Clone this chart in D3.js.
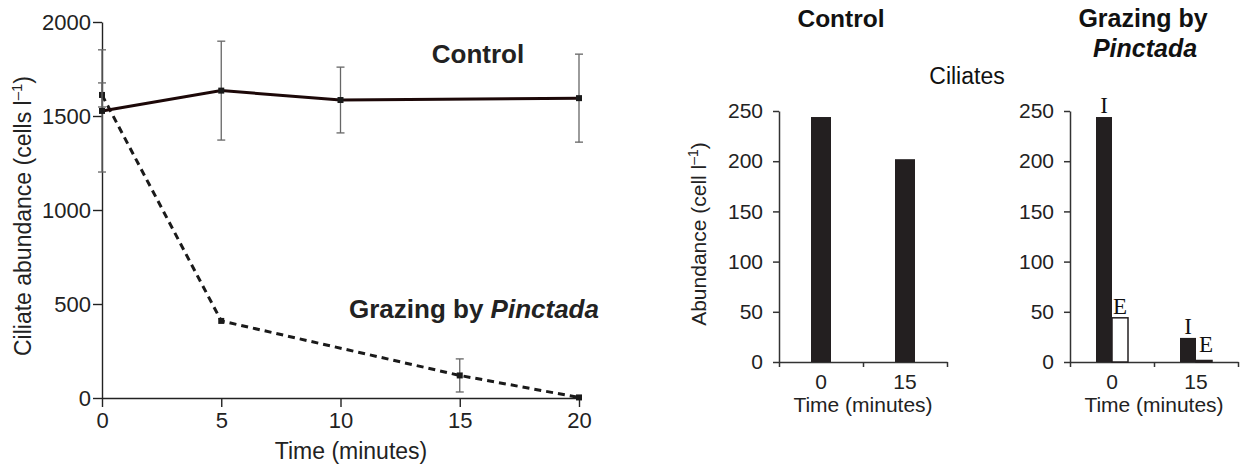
<!DOCTYPE html>
<html>
<head>
<meta charset="utf-8">
<script src="https://cdn.jsdelivr.net/npm/d3@7"></script>
<style>
  body { margin: 0; background: #fff; }
  svg { display: block; font-family: "Liberation Sans", Arial, Helvetica, sans-serif; }
</style>
</head>
<body>
<svg width="1242" height="468"></svg>
<script>
// line chart data (time in minutes, cells per litre)
const controlTime = [0, 5, 10, 20]
const controlMean = [1527, 1635, 1585, 1595]
const controlErr = [325, 263, 175, 234]
const grazingTime = [0, 5, 15, 20]
const grazingMean = [1612, 410, 120, 3]
const grazingErr = [64, 0, 88, 0]
const lineTicksX = [0, 5, 10, 15, 20]
const lineTicksY = [0, 500, 1000, 1500, 2000]

// bar chart data
const periods = ['0', '15']
const controlBars = [244, 202]
const ingestedI = [244, 24]
const egestedE = [44, 1.5]
const barTicksY = [0, 50, 100, 150, 200, 250]

const svg = d3.select('svg')
const font = '"Liberation Sans", Arial, Helvetica, sans-serif'

// ---------- left: line chart ----------
const x = d3.scaleLinear().domain([0, 20]).range([102, 579])
const y = d3.scaleLinear().domain([0, 2000]).range([398, 22])

const gy = svg.append('g')
  .attr('transform', 'translate(' + x(0) + ',0)')
  .call(d3.axisLeft(y).tickValues(lineTicksY).tickFormat(d3.format('d')).tickSize(9).tickSizeOuter(0).tickPadding(2))
gy.attr('font-family', font).attr('font-size', 22)
gy.selectAll('text').attr('fill', '#222')

const gx = svg.append('g')
  .attr('transform', 'translate(0,' + y(0) + ')')
  .call(d3.axisBottom(x).tickValues(lineTicksX).tickSize(9).tickSizeOuter(0).tickPadding(5))
gx.attr('font-family', font).attr('font-size', 22)
gx.selectAll('text').attr('fill', '#222')
svg.selectAll('.domain, .tick line').attr('stroke', '#222').attr('stroke-width', 1.4)

function drawSeries (times, means, errs, dashed) {
  const pts = times.map((t, i) => ({ t, m: means[i], e: errs[i] }))
  // error bars
  const eb = svg.append('g').attr('stroke', '#666').attr('stroke-width', 1.3)
  pts.filter(d => d.e > 0).forEach(d => {
    eb.append('line').attr('x1', x(d.t)).attr('x2', x(d.t)).attr('y1', y(d.m - d.e)).attr('y2', y(d.m + d.e))
    eb.append('line').attr('x1', x(d.t) - 4).attr('x2', x(d.t) + 4).attr('y1', y(d.m + d.e)).attr('y2', y(d.m + d.e))
    eb.append('line').attr('x1', x(d.t) - 4).attr('x2', x(d.t) + 4).attr('y1', y(d.m - d.e)).attr('y2', y(d.m - d.e))
  })
  const line = d3.line().x(d => x(d.t)).y(d => y(d.m))
  svg.append('path')
    .datum(pts)
    .attr('fill', 'none')
    .attr('stroke', dashed ? '#1a1a1a' : '#1c0808')
    .attr('stroke-width', 3)
    .attr('stroke-dasharray', dashed ? '7,5' : null)
    .attr('d', line)
  svg.append('g').selectAll('rect')
    .data(pts)
    .enter().append('rect')
    .attr('x', d => x(d.t) - 3)
    .attr('y', d => y(d.m) - 3)
    .attr('width', 6)
    .attr('height', 6)
    .attr('fill', '#1a1a1a')
}
drawSeries(grazingTime, grazingMean, grazingErr, true)
drawSeries(controlTime, controlMean, controlErr, false)

svg.append('text')
  .attr('x', 478).attr('y', 63)
  .attr('text-anchor', 'middle')
  .attr('font-size', 26).attr('font-weight', 'bold').attr('fill', '#222')
  .text('Control')

const gl = svg.append('text')
  .attr('x', 474).attr('y', 318)
  .attr('text-anchor', 'middle')
  .attr('font-size', 26).attr('font-weight', 'bold').attr('fill', '#222')
gl.append('tspan').text('Grazing by ')
gl.append('tspan').attr('font-style', 'italic').text('Pinctada')

svg.append('text')
  .attr('x', 351).attr('y', 459)
  .attr('text-anchor', 'middle')
  .attr('font-size', 23).attr('fill', '#222')
  .text('Time (minutes)')

const yl = svg.append('text')
  .attr('transform', 'translate(31,216) rotate(-90)')
  .attr('text-anchor', 'middle')
  .attr('font-size', 23).attr('fill', '#222')
yl.append('tspan').text('Ciliate abundance (cells l')
yl.append('tspan').attr('font-size', 15).attr('dy', -9).text('–1')
yl.append('tspan').attr('dy', 9).text(')')

// ---------- right: bar charts ----------
const yb = d3.scaleLinear().domain([0, 250]).range([362, 111])

function barPanel (x0, x1) {
  const band = d3.scaleBand().domain(periods).range([x0, x1])
  const g = svg.append('g')
  const ay = g.append('g')
    .attr('transform', 'translate(' + x0 + ',0)')
    .call(d3.axisLeft(yb).tickValues(barTicksY).tickSize(6).tickSizeOuter(0).tickPadding(10))
  ay.attr('font-family', font).attr('font-size', 21)
  ay.selectAll('text').attr('fill', '#222')
  // axis line with ticks at band edges
  const edges = d3.scaleLinear().domain([x0, x1]).range([x0, x1])
  g.append('g')
    .attr('transform', 'translate(0,' + yb(0) + ')')
    .call(d3.axisBottom(edges).tickValues([x0, band('15'), x1]).tickSize(5).tickSizeOuter(0).tickFormat(''))
  const al = g.append('g')
    .attr('transform', 'translate(0,' + yb(0) + ')')
    .call(d3.axisBottom(band).tickSize(0).tickPadding(12))
  al.select('.domain').remove()
  al.attr('font-family', font).attr('font-size', 21)
  al.selectAll('text').attr('fill', '#222')
  g.selectAll('.domain, .tick line').attr('stroke', '#333').attr('stroke-width', 1.5)
  g.append('text')
    .attr('x', (x0 + x1) / 2).attr('y', 412)
    .attr('text-anchor', 'middle')
    .attr('font-size', 21).attr('fill', '#222')
    .text('Time (minutes)')
  return band
}

// control panel
const band1 = barPanel(779, 947)
svg.append('g').selectAll('rect')
  .data(controlBars)
  .enter().append('rect')
  .attr('x', (d, i) => band1(periods[i]) + band1.bandwidth() / 2 - 10)
  .attr('y', d => yb(d))
  .attr('width', 20)
  .attr('height', d => yb(0) - yb(d))
  .attr('fill', '#231f20')

const byl = svg.append('text')
  .attr('transform', 'translate(706,234) rotate(-90)')
  .attr('text-anchor', 'middle')
  .attr('font-size', 21).attr('fill', '#222')
byl.append('tspan').text('Abundance (cell l')
byl.append('tspan').attr('font-size', 14).attr('dy', -8).text('–1')
byl.append('tspan').attr('dy', 8).text(')')

svg.append('text')
  .attr('x', 841).attr('y', 27)
  .attr('text-anchor', 'middle')
  .attr('font-size', 24.5).attr('font-weight', 'bold').attr('fill', '#111')
  .text('Control')

svg.append('text')
  .attr('x', 967).attr('y', 84)
  .attr('text-anchor', 'middle')
  .attr('font-size', 23).attr('fill', '#111')
  .text('Ciliates')

// grazing panel
const band2 = barPanel(1070, 1238)
const sub = d3.scaleBand().domain(['I', 'E']).range([0, 32])
const groups = periods.map((p, i) => [
  { key: 'I', p, v: ingestedI[i] },
  { key: 'E', p, v: egestedE[i] }
])
const gb = svg.append('g').selectAll('g')
  .data(groups)
  .enter().append('g')
  .attr('transform', d => 'translate(' + (band2(d[0].p) + band2.bandwidth() / 2 - 16) + ',0)')
gb.selectAll('rect')
  .data(d => d)
  .enter().append('rect')
  .attr('x', d => sub(d.key))
  .attr('y', d => yb(d.v))
  .attr('width', sub.bandwidth())
  .attr('height', d => yb(0) - yb(d.v))
  .attr('fill', d => d.key === 'I' ? '#231f20' : '#fff')
  .attr('stroke', d => d.key === 'I' ? 'none' : '#231f20')
  .attr('stroke-width', 1.5)
gb.selectAll('text')
  .data(d => d)
  .enter().append('text')
  .attr('x', d => sub(d.key) + sub.bandwidth() / 2 + (d.key === 'E' && d.v < 5 ? 2 : 0))
  .attr('y', d => d.key === 'E' && d.v < 5 ? yb(d.v) - 8 : yb(d.v) - 4)
  .attr('text-anchor', 'middle')
  .attr('font-family', '"Liberation Serif", "Times New Roman", serif')
  .attr('font-size', 23).attr('fill', '#111')
  .text(d => d.key)

const gt = svg.append('text')
  .attr('text-anchor', 'middle')
  .attr('font-size', 25).attr('font-weight', 'bold').attr('fill', '#111')
gt.append('tspan').attr('x', 1143).attr('y', 27).text('Grazing by')
gt.append('tspan').attr('x', 1145).attr('y', 57).attr('font-style', 'italic').text('Pinctada')
</script>
</body>
</html>
